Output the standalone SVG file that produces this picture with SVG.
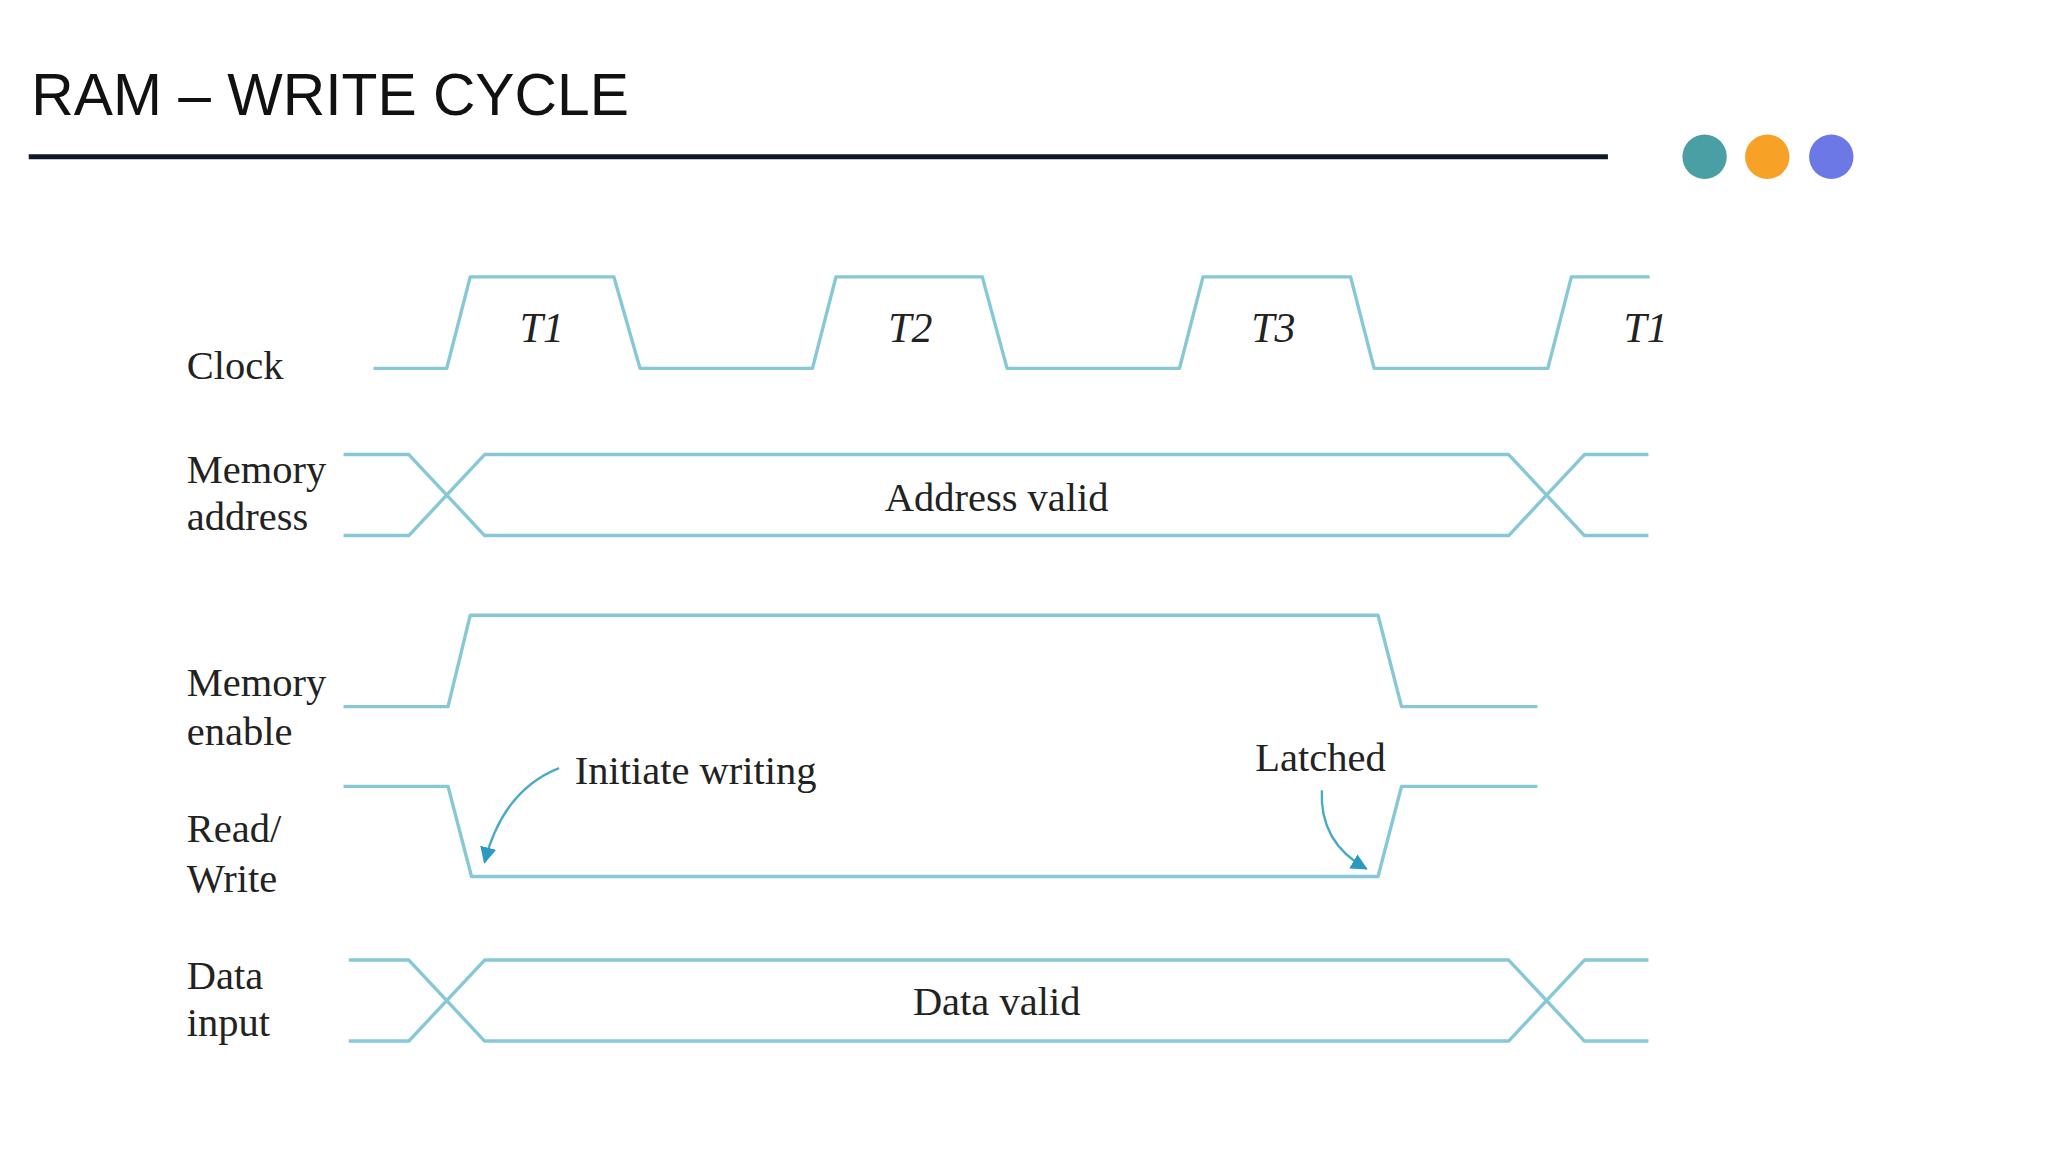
<svg xmlns="http://www.w3.org/2000/svg" width="2048" height="1152" viewBox="0 0 2048 1152">
<style>
.w{fill:none;stroke:#86c8d6;stroke-width:2.6;stroke-linejoin:round}
.s{font-family:"Liberation Serif",serif;font-size:31px;fill:#222}
.i{font-family:"Liberation Serif",serif;font-size:32px;font-style:italic;fill:#222}
</style>
<defs><marker id="ah" viewBox="0 0 10 10" refX="9" refY="5" markerWidth="7" markerHeight="7" orient="auto"><path d="M0,0 L10,5 L0,10 z" fill="#2a9ac0"/></marker></defs>
<rect width="2048" height="1152" fill="#fff"/>
<g transform="scale(1.3062)">
<g id="title"><text x="24" y="88" font-family="Liberation Sans,sans-serif" font-size="45" fill="#111">RAM – WRITE CYCLE</text>
<line x1="22" y1="120" x2="1231" y2="120" stroke="#111827" stroke-width="4"/>
<circle cx="1305" cy="120" r="17" fill="#4a9fa5"/><circle cx="1353" cy="120" r="17" fill="#f7a126"/><circle cx="1402" cy="120" r="17" fill="#6b78e5"/></g>
<g id="clock"><text class="s" x="143" y="290">Clock</text>
<text class="i" x="398" y="262">T1</text><text class="i" x="680" y="262">T2</text><text class="i" x="958" y="262">T3</text><text class="i" x="1243" y="262">T1</text></g>
<g id="address"><text class="s" x="143" y="370">Memory</text><text class="s" x="143" y="406">address</text><text class="s" x="763" y="391" text-anchor="middle">Address valid</text></g>
<g id="enable"><text class="s" x="143" y="533">Memory</text><text class="s" x="143" y="570">enable</text></g>
<g id="rw"><text class="s" x="143" y="645">Read/</text><text class="s" x="143" y="683">Write</text><text class="s" x="440" y="600">Initiate writing</text><text class="s" x="961" y="590">Latched</text></g>
<g id="data"><text class="s" x="143" y="757">Data</text><text class="s" x="143" y="793">input</text><text class="s" x="763" y="777" text-anchor="middle">Data valid</text></g>
<g id="connectors">
<path class="w" d="M286,282 H342 L360,212 H470 L490,282 H622 L640,212 H752 L771,282 H903 L921,212 H1034 L1052,282 H1185 L1203,212 H1263"/>
<path class="w" d="M263,348 H313 L371,410 H1155 L1213,348 H1262 M263,410 H313 L371,348 H1155 L1213,410 H1262"/>
<path class="w" d="M263,541 H343 L360,471 H1055 L1073,541 H1177"/>
<path class="w" d="M263,602 H343 L361,671 H1055 L1073,602 H1177"/>
<path class="w" d="M267,735 H313 L371,797 H1155 L1213,735 H1262 M267,797 H313 L371,735 H1155 L1213,797 H1262"/>
<path d="M428,588 Q385,605 371,660" fill="none" stroke="#4aa8c8" stroke-width="1.8" marker-end="url(#ah)"/>
<path d="M1012,605 Q1010,645 1046,665" fill="none" stroke="#4aa8c8" stroke-width="1.8" marker-end="url(#ah)"/>
</g>
</g>
</svg>
